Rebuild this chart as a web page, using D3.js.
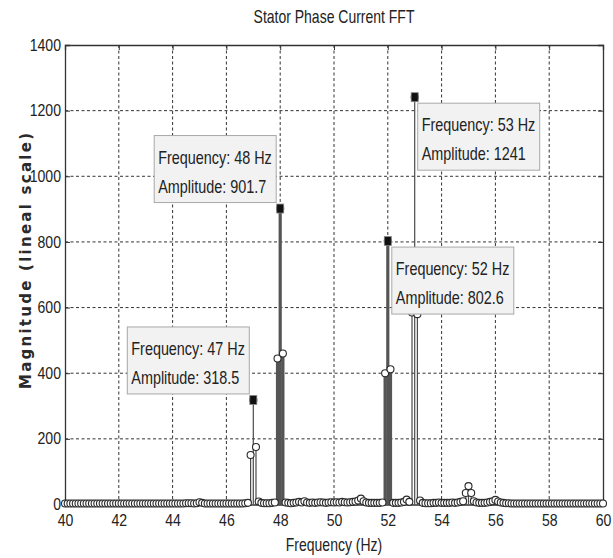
<!DOCTYPE html>
<html>
<head>
<meta charset="utf-8">
<script src="https://cdn.jsdelivr.net/npm/d3@7"></script>
<style>
  html, body { margin: 0; padding: 0; background: #fff; }
  svg { display: block; }
</style>
</head>
<body>
<svg id="chart" width="613" height="558"></svg>
<script>
// ---------------- data ----------------
const chartTitle = "Stator Phase Current FFT";
const xLabel = "Frequency (Hz)";
const yLabel = "Magnitude (lineal scale)";
const xTicks = [40, 42, 44, 46, 48, 50, 52, 54, 56, 58, 60];
const yTicks = [0, 200, 400, 600, 800, 1000, 1200, 1400];

// FFT bins, 0.1 Hz apart, from 40.0 Hz to 60.0 Hz
const binStart = 40.0;
const binStep = 0.1;
const amplitudes = [
  3, 3, 3, 3, 3, 3, 3, 3, 3, 3,          // 40.x
  3, 3, 3, 3, 3, 3, 3, 3, 3, 3,          // 41.x
  3, 3, 3, 3, 3, 3, 3, 3, 3, 3,          // 42.x
  3, 3, 3, 3, 3, 3, 3, 3, 3, 3,          // 43.x
  3, 3, 3, 3, 3, 4, 4, 4, 3, 4,          // 44.x
  7, 5, 3, 3, 3, 3, 3, 3, 3, 3,          // 45.x
  3, 3, 3, 3, 3, 3, 3, 4, 5, 151,        // 46.x
  318.5, 175, 9, 5, 4, 4, 4, 5, 6, 445,  // 47.x
  901.7, 460, 6, 5, 4, 5, 6, 8, 6, 10,   // 48.x
  6, 5, 6, 5, 6, 7, 6, 5, 6, 7,          // 49.x
  6, 7, 6, 8, 7, 6, 7, 8, 9, 12,         // 50.x
  18, 10, 6, 5, 5, 5, 5, 5, 6, 400,      // 51.x
  802.6, 412, 5, 5, 5, 6, 8, 15, 8, 585, // 52.x
  1241, 580, 12, 5, 4, 4, 4, 5, 5, 6,    // 53.x
  5, 5, 5, 5, 6, 5, 6, 8, 10, 35,        // 54.x
  56, 35, 10, 6, 5, 5, 5, 6, 8, 10,      // 55.x
  14, 9, 6, 5, 4, 4, 3, 3, 3, 3,         // 56.x
  3, 3, 3, 3, 3, 3, 3, 3, 3, 3,          // 57.x
  3, 3, 3, 3, 3, 3, 3, 3, 3, 3,          // 58.x
  3, 3, 3, 3, 3, 3, 3, 3, 3, 3,          // 59.x
  3                                      // 60.0
];

// data-cursor annotations
const peakFreqs = [47, 48, 52, 53];
const peakAmps = [318.5, 901.7, 802.6, 1241];
const peakAmpLabels = ["318.5", "901.7", "802.6", "1241"];

// ---------------- drawing ----------------
const svg = d3.select("#chart");
const W = 613, H = 558;
const m = { left: 65, right: 10, top: 45, bottom: 53.5 };
const x = d3.scaleLinear().domain([40, 60]).range([m.left, W - m.right]);
const y = d3.scaleLinear().domain([0, 1400]).range([H - m.bottom, m.top]);

const bins = amplitudes.map((a, i) => ({ f: +(binStart + i * binStep).toFixed(1), a }));

const NARROW = 0.8;
const fontStack = '"Liberation Sans", Arial, sans-serif';
function narrowText(parent, cx, cy, str, size, anchor) {
  const g = parent.append("g").attr("transform", `translate(${cx},${cy}) scale(${NARROW},1)`);
  g.append("text").attr("x", 0).attr("y", 0)
    .attr("text-anchor", anchor || "start")
    .attr("font-family", fontStack).attr("font-size", size).attr("fill", "#222")
    .text(str);
  return g;
}

// grid
const grid = svg.append("g");
grid.selectAll(".gx").data(xTicks.slice(1, -1)).join("line")
  .attr("x1", d => x(d)).attr("x2", d => x(d))
  .attr("y1", y(0)).attr("y2", y(1400))
  .attr("stroke", "#333").attr("stroke-width", 1).attr("stroke-dasharray", "3,2.5");
grid.selectAll(".gy").data(yTicks.slice(1, -1)).join("line")
  .attr("y1", d => y(d)).attr("y2", d => y(d))
  .attr("x1", x(40)).attr("x2", x(60))
  .attr("stroke", "#333").attr("stroke-width", 1).attr("stroke-dasharray", "3,2.5");

// axes with ticks inward
const tickScale = 0.88;
svg.append("g").attr("transform", `translate(0,${y(0)})`)
  .call(d3.axisBottom(x).tickValues(xTicks).tickSize(-5).tickPadding(10).tickFormat(d3.format("d")))
  .selectAll(".tick text").attr("transform", `scale(${tickScale},1)`);
svg.append("g").attr("transform", `translate(${x(40)},0)`)
  .call(d3.axisLeft(y).tickValues(yTicks).tickSize(-5).tickPadding(4).tickFormat(d3.format("d")))
  .selectAll(".tick text").attr("x", -4 / tickScale).attr("transform", `scale(${tickScale},1)`);
svg.append("g").attr("transform", `translate(0,${y(1400)})`)
  .call(d3.axisTop(x).tickValues(xTicks).tickSize(-5).tickFormat(""));
svg.append("g").attr("transform", `translate(${x(60)},0)`)
  .call(d3.axisRight(y).tickValues(yTicks).tickSize(-5).tickFormat(""));
svg.selectAll(".domain").attr("stroke", "#333").attr("stroke-width", 1.3);
svg.selectAll(".tick line").attr("stroke", "#333");
svg.selectAll(".tick text").attr("font-family", fontStack).attr("font-size", 16).attr("fill", "#222");

// stems
const heavyCenters = [48, 52];
const isHeavy = f => heavyCenters.some(c => Math.abs(f - c) <= 0.11);
svg.append("g").selectAll("line").data(bins.filter(d => d.a > 0)).join("line")
  .attr("x1", d => x(d.f)).attr("x2", d => x(d.f))
  .attr("y1", y(0)).attr("y2", d => y(d.a))
  .attr("stroke", d => isHeavy(d.f) ? "#555" : "#4a4a4a")
  .attr("stroke-width", d => isHeavy(d.f) ? 3.2 : 1.2);

// circle markers
svg.append("g").selectAll("circle").data(bins).join("circle")
  .attr("cx", d => x(d.f)).attr("cy", d => y(d.a)).attr("r", 3.5)
  .attr("fill", "#fff").attr("stroke", "#2a2a2a").attr("stroke-width", 1.1);

// data cursor squares
svg.append("g").selectAll("rect").data(peakFreqs).join("rect")
  .attr("x", (d) => x(d) - 3.5).attr("y", (d, i) => y(peakAmps[i]) - 4.5)
  .attr("width", 7).attr("height", 9)
  .attr("fill", "#111").attr("stroke", "#888").attr("stroke-width", 0.8);

// annotation boxes
const boxW = 122, boxH = 67;
const boxPlacement = [
  { dx: -4 - boxW, dy: -6 - boxH },  // 47 Hz: upper left
  { dx: -4 - boxW, dy: -6 - boxH },  // 48 Hz
  { dx: 4, dy: 6 },                  // 52 Hz: lower right
  { dx: 3, dy: 6 }                   // 53 Hz
];
const ann = svg.append("g").selectAll("g").data(peakFreqs).join("g")
  .attr("transform", (d, i) => `translate(${x(d) + boxPlacement[i].dx},${y(peakAmps[i]) + boxPlacement[i].dy})`);
ann.append("rect").attr("width", boxW).attr("height", boxH)
  .attr("fill", "#f2f2f2").attr("stroke", "#a8a8a8").attr("stroke-width", 1);
ann.each(function (d, i) {
  const g = d3.select(this);
  narrowText(g, 4, 28, `Frequency: ${d} Hz`, 18, "start");
  narrowText(g, 4, 57, `Amplitude: ${peakAmpLabels[i]}`, 18, "start");
});

// title & labels
const cxPlot = (x(40) + x(60)) / 2;
narrowText(svg, cxPlot, 23, chartTitle, 17.5, "middle");
narrowText(svg, cxPlot, 551, xLabel, 17.5, "middle");
svg.append("text")
  .attr("transform", `translate(31,261) rotate(-90)`)
  .attr("text-anchor", "middle")
  .attr("font-family", '"DejaVu Sans", Verdana, sans-serif').attr("font-weight", "bold")
  .attr("font-size", 15).attr("fill", "#2a2a2a")
  .attr("textLength", 256).attr("lengthAdjust", "spacing")
  .text(yLabel);
</script>
</body>
</html>
